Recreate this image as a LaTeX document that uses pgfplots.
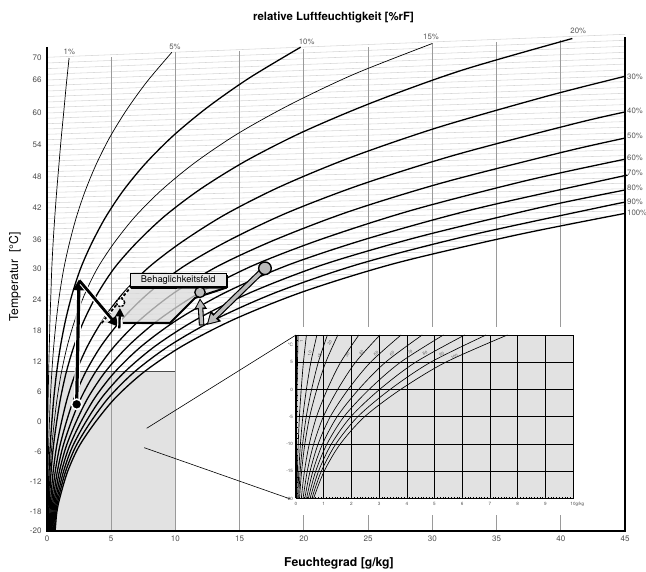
\documentclass[border=0pt]{standalone}
\usepackage{fontspec}
\setmainfont{TeX Gyre Heros}
\usepackage{pgfplots}
\pgfplotsset{compat=1.18}
\usetikzlibrary{arrows.meta,shadows}
\definecolor{tickgray}{HTML}{4D4D4D}
\definecolor{labgray}{HTML}{555555}
\definecolor{isogray}{HTML}{D6D6D6}
\definecolor{gridgray}{HTML}{9A9A9A}
\definecolor{rectgray}{HTML}{E2E2E2}
\definecolor{zonegray}{HTML}{DADADA}
\definecolor{arrowgray}{HTML}{BBBBBB}
\pgfplotsset{
  rhthick/.style={black, line width=1.3pt, smooth, line join=round},
  rhthin/.style={black, line width=0.7pt, smooth, line join=round},
  inrh/.style={black, line width=0.65pt, smooth},
}
\begin{document}
\begin{tikzpicture}
\useasboundingbox (-47pt,-41pt) rectangle (599pt,531pt);
\begin{axis}[
  name=main, at={(0pt,0pt)}, anchor=south west,
  scale only axis, width=578pt, height=493pt,
  xmin=0, xmax=45, ymin=0, ymax=493,
  enlargelimits=false, clip=false,
  axis line style={draw=none},
  major tick length=0pt,
  xtick={0,5,10,15,20,25,30,35,40,45},
  xticklabels={0,5,10,15,20,25,30,35,40,45},
  ytick={0,19,49.3,79.3,109,139,169.3,200,231,262,291.7,323,354,386,418,451,473.7},
  yticklabels={-20,-18,-12,-6,0,6,12,18,24,30,36,42,48,54,60,66,70},
  tick label style={font=\fontsize{8}{9}\selectfont, text=tickgray},
  yticklabel style={xshift=-2pt},
  xticklabel style={yshift=-1pt},
]
% grey region (detail)
\addplot[draw=none, fill=rectgray] coordinates {(0,0) (10,0) (10,159.5) (0,159.5)} -- cycle;
% isotherms
\addplot[isogray, line width=0.55pt, unbounded coords=jump] table {
0 164.25
8.160 164.9
nan nan
0 169.3
8.727 170.1
nan nan
0 174.4
9.334 175.3
nan nan
0 179.5
9.973 180.5
nan nan
0 184.65
10.646 185.8
nan nan
0 189.8
11.364 191.1
nan nan
0 194.9
12.122 196.4
nan nan
0 200
12.934 201.7
nan nan
0 205.2
13.786 207.1
nan nan
0 210.3
14.698 212.4
nan nan
0 215.5
15.651 217.9
nan nan
0 220.7
16.672 223.4
nan nan
0 225.8
17.742 228.8
nan nan
0 231
18.880 234.3
nan nan
0 236.2
20.082 239.9
nan nan
0 241.3
21.353 245.4
nan nan
0 246.5
22.696 251.0
nan nan
0 251.7
24.110 256.6
nan nan
0 256.8
25.610 262.2
nan nan
0 262
27.21 268.0
nan nan
0 267
28.887 273.5
nan nan
0 271.9
30.654 279.1
nan nan
0 276.9
32.531 284.7
nan nan
0 281.8
34.488 290.4
nan nan
0 286.75
36.59 296.1
nan nan
0 291.7
38.769 301.9
nan nan
0 296.9
41.112 308.0
nan nan
0 302.1
43.556 314.2
nan nan
0 307.35
45 320.2
nan nan
0 312.6
45 325.7
nan nan
0 317.8
45 331.3
nan nan
0 323
45 336.8
nan nan
0 328.2
45 342.3
nan nan
0 333.3
45 347.8
nan nan
0 338.5
45 353.3
nan nan
0 343.7
45 358.8
nan nan
0 348.8
45 364.2
nan nan
0 354
45 369.8
nan nan
0 359.3
45 375.4
nan nan
0 364.7
45 381.1
nan nan
0 370
45 386.8
nan nan
0 375.3
45 392.4
nan nan
0 380.7
45 398.1
nan nan
0 386
45 403.7
nan nan
0 391.3
45 409.4
nan nan
0 396.7
45 415.1
nan nan
0 402
45 420.7
nan nan
0 407.3
45 426.4
nan nan
0 412.7
45 432.1
nan nan
0 418
45 437.7
nan nan
0 423.5
45 443.5
nan nan
0 429
45 449.4
nan nan
0 434.5
45 455.2
nan nan
0 440
45 461.0
nan nan
0 445.5
45 466.9
nan nan
0 451
45 472.7
nan nan
0 456.7
45 478.7
nan nan
0 462.35
45 484.7
nan nan
0 468
45 490.7
nan nan
0 473.7
45 496.7
};
% vertical grid lines
\addplot[gridgray, line width=0.8pt, unbounded coords=jump] table {
5 0
5 474
nan nan
10 0
10 479
nan nan
15 0
15 480
nan nan
20 0
20 16
nan nan
20 204
20 482
nan nan
25 0
25 16
nan nan
25 204
25 484
nan nan
30 0
30 16
nan nan
30 204
30 488
nan nan
35 0
35 16
nan nan
35 204
35 489
nan nan
40 0
40 16
nan nan
40 204
40 491
};
\addplot[black!70, line width=0.7pt] coordinates {(0,159.5) (10,159.5)};
% relative humidity curves
\addplot[rhthin] coordinates {(0.006,0) (0.01,34) (0.02,59) (0.04,84) (0.06,109) (0.09,134) (0.13,159) (0.18,185) (0.23,210.5) (0.30,236) (0.37,262) (0.47,287) (0.6,313) (0.75,339) (0.92,365) (1.1,392) (1.3,418.5) (1.5,446) (1.72,473)};
\addplot[rhthin] coordinates {(0.0317,0) (0.0384,19) (0.0507,34.1) (0.0798,59.3) (0.1233,84.2) (0.1877,109) (0.2681,134.0) (0.3774,159.2) (0.5238,184.7) (0.7188,210.4) (0.9742,236.4) (1.306,262.3) (1.733,287.2) (2.275,313.3) (2.958,339.5) (3.811,366.1) (4.872,393.3) (6.178,420.7) (7.776,449.2) (9.720,478.7)};
\addplot[rhthick] coordinates {(0.0634,0) (0.0767,19) (0.1015,34.1) (0.1595,59.3) (0.2467,84.2) (0.3754,109) (0.5361,134.0) (0.7547,159.2) (1.048,184.7) (1.439,210.5) (1.952,236.6) (2.618,262.6) (3.475,287.6) (4.567,313.9) (5.943,340.5) (7.669,367.5) (9.821,395.2) (12.48,423.5) (15.748,453.0) (19.748,483.8)};
\addplot[rhthin] coordinates {(0.095,0) (0.115,19) (0.1522,34.1) (0.2393,59.3) (0.3699,84.2) (0.5633,109) (0.8046,134.0) (1.133,159.3) (1.574,184.8) (2.161,210.6) (2.932,236.7) (3.935,262.9) (5.227,288.1) (6.875,314.6) (8.958,341.4) (11.574,368.9) (14.849,397.3) (18.909,426.3) (23.925,456.9) (30.0,487.5)};
\addplot[rhthick] coordinates {(0.1267,0) (0.153,19) (0.2029,34.1) (0.319,59.3) (0.4933,84.2) (0.7513,109) (1.073,134.0) (1.511,159.3) (2.100,184.8) (2.885,210.7) (3.915,236.9) (5.258,263.2) (6.989,288.5) (9.201,315.3) (12.001,342.4) (15.529,370.4) (19.957,399.3) (25.471,429.2) (32.314,460.8) (40.9,492.5)};
\addplot[rhthick] coordinates {(0.190,0) (0.230,19) (0.3045,34.1) (0.4787,59.3) (0.7402,84.2) (1.128,109) (1.611,134.1) (2.270,159.4) (3.156,184.9) (4.338,210.9) (5.891,237.3) (7.921,263.7) (10.542,289.4) (13.904,316.7) (18.177,344.5) (23.587,373.3) (30.424,403.5) (39.005,435.1) (45,454.7)};
\addplot[rhthick] coordinates {(0.2536,0) (0.307,19) (0.406,34.1) (0.6386,59.3) (0.9874,84.2) (1.5045,109) (2.150,134.1) (3.030,159.4) (4.215,185.1) (5.797,211.1) (7.880,237.6) (10.606,264.3) (14.136,290.4) (18.678,318.1) (24.474,346.5) (31.852,376.3) (41.237,407.9) (45,419.0)};
\addplot[rhthick] coordinates {(0.317,0) (0.383,19) (0.5077,34.0) (0.7985,59.2) (1.235,84.2) (1.882,109) (2.690,134.1) (3.792,159.5) (5.278,185.2) (7.263,211.4) (9.881,238.0) (13.314,264.9) (17.771,291.3) (23.524,319.5) (30.897,348.6) (40.332,379.4) (45,392.9)};
\addplot[rhthick] coordinates {(0.3804,0) (0.460,19) (0.6092,34.0) (0.958,59.2) (1.483,84.2) (2.259,109) (3.231,134.1) (4.556,159.5) (6.344,185.3) (8.736,211.6) (11.895,238.4) (16.045,265.5) (21.446,292.2) (28.444,320.9) (37.449,350.8) (45,371.8)};
\addplot[rhthick] coordinates {(0.444,0) (0.537,19) (0.7107,34.0) (1.118,59.2) (1.730,84.2) (2.637,109) (3.772,134.1) (5.322,159.6) (7.414,185.4) (10.216,211.8) (13.921,238.7) (18.802,266.1) (25.165,293.2) (33.443,322.4) (44.13,353.0) (45,355.2)};
\addplot[rhthick] coordinates {(0.5075,0) (0.613,19) (0.8126,34.0) (1.278,59.2) (1.978,84.2) (3.016,109) (4.315,134.2) (6.090,159.6) (8.487,185.5) (11.702,212.0) (15.961,239.1) (21.583,266.7) (28.928,294.1) (38.513,323.8) (45,341.0)};
\addplot[rhthick] coordinates {(0.571,0) (0.690,19) (0.914,34.05) (1.438,59.2) (2.227,84.2) (3.395,109) (4.859,134.2) (6.859,159.7) (9.565,185.6) (13.196,212.2) (18.015,239.5) (24.383,267.3) (32.735,295.1) (43.67,325.4) (45,328.6)};
\addplot[rhthick] coordinates {(0.634,0) (0.767,19) (1.016,34.0) (1.598,59.2) (2.475,84.2) (3.775,109) (5.403,134.2) (7.631,159.8) (10.646,185.8) (14.698,212.4) (20.082,239.9) (27.21,268.0) (36.59,296.1) (45,317.6)};
% frame
\draw[black, line width=1.6pt] (axis cs:0,484) -- (axis cs:0,0) -- (axis cs:45,0) -- (axis cs:45,494);
% comfort zone
\addplot[draw=none, fill=zonegray, opacity=0.75] coordinates {(4.26,208) (9.58,208) (11.52,233) (14.0,243.5) (6.46,243)} -- cycle;
\addplot[black, line width=2pt] coordinates {(5.9,208) (9.58,208) (11.52,233) (14.0,243.5)};
\addplot[black, line width=2pt] coordinates {(6.46,243) (14.0,243.5)};
\addplot[white, line width=2.8pt] coordinates {(4.26,208) (6.46,243)};
\addplot[black, line width=1.9pt, dash pattern=on 3pt off 2pt] coordinates {(4.26,208) (6.46,243)};
\node[draw=black, fill=gray!18, line width=0.7pt, minimum width=96pt, minimum height=13.5pt, inner sep=0pt, font=\fontsize{9.3}{10}\selectfont, drop shadow={shadow xshift=1.6pt, shadow yshift=-1.6pt, fill=black, opacity=1}] at (axis cs:10.22,251) {Behaglichkeitsfeld};
% connecting lines to detail
\addplot[black, line width=0.6pt] coordinates {(7.76,102.7) (19.386,196)};
\addplot[black, line width=0.6pt] coordinates {(7.57,83.3) (18.95,32)};
% winter process (black)
\addplot[white, line width=5.5pt] coordinates {(2.31,126.7) (2.47,240)};
\addplot[black, line width=3.2pt, -{Triangle[length=11pt,width=11pt]}] coordinates {(2.31,126.7) (2.49,251.7)};
\addplot[white, line width=5pt] coordinates {(2.7,248) (5.2,208.5)};
\addplot[black, line width=2.8pt, -{Triangle[length=10pt,width=10pt]}] coordinates {(2.52,250.5) (5.55,204.3)};
\addplot[only marks, mark=*, mark size=4.2pt, mark options={fill=white, draw=black, line width=1.4pt, dash pattern=on 2.2pt off 1.2pt}] coordinates {(5.72,228.5)};
\addplot[white, line width=4.5pt] coordinates {(5.63,202.7) (5.67,216)};
\addplot[black, line width=2.3pt, -{Triangle[length=8.5pt,width=8.5pt]}] coordinates {(5.63,202.7) (5.68,223)};
\addplot[only marks, mark=*, mark size=5.2pt, mark options={fill=black, draw=white, line width=1.6pt}] coordinates {(2.31,126.7)};
% summer process (grey)
\addplot[black, line width=6pt, -{Triangle[length=13pt,width=14pt]}] coordinates {(16.97,262.7) (12.43,206)};
\addplot[arrowgray, line width=3.6pt, shorten >=2pt, -{Triangle[length=9pt,width=9.5pt]}] coordinates {(16.97,262.7) (12.43,206)};
\addplot[black, line width=5.5pt, -{Triangle[length=11pt,width=12pt]}] coordinates {(12.04,205.5) (11.91,232.7)};
\addplot[arrowgray, line width=3.3pt, shorten >=1.9pt, shorten <=1.1pt, -{Triangle[length=7.5pt,width=8pt]}] coordinates {(12.04,205.5) (11.91,232.7)};
\addplot[only marks, mark=*, mark size=6.3pt, mark options={fill=arrowgray, draw=black, line width=1.4pt}] coordinates {(16.97,262.7)};
\addplot[only marks, mark=*, mark size=5.2pt, mark options={fill=arrowgray, draw=black, line width=1.3pt}] coordinates {(11.91,238.7)};
\end{axis}

% detail inset
\begin{axis}[
  at={(249pt,32.5pt)}, anchor=south west,
  scale only axis, width=277pt, height=163.5pt,
  xmin=0, xmax=10, ymin=-20, ymax=10, enlargelimits=false, clip=false,
  axis background/.style={fill=rectgray},
  xtick={0,1,2,3,4,5,6,7,8,9,10},
  xticklabels={0,1,2,3,4,5,6,7,8,9,10\rlap{g/kg}},
  ytick={-20,-15,-10,-5,0,5,10},
  yticklabels={-20,-15,-10,-5,0,5,{}},
  grid=major, major grid style={black, line width=0.6pt},
  axis line style={black, line width=0.6pt},
  minor x tick num=9, minor y tick num=4,
  tick align=inside, tick pos=left,
  major tick length=0pt, minor tick length=1.6pt,
  minor tick style={black, line width=0.3pt},
  tick label style={font=\fontsize{4.6}{5}\selectfont, text=tickgray},
  xticklabel style={yshift=-0.5pt},
  yticklabel style={xshift=0.5pt},
]
\addplot[inrh] coordinates {(0.006,-20) (0.010,-15) (0.016,-10) (0.025,-5) (0.038,0) (0.054,5) (0.075,10)};
\addplot[inrh] coordinates {(0.032,-20) (0.051,-15) (0.080,-10) (0.123,-5) (0.188,0) (0.268,5) (0.377,10)};
\addplot[inrh] coordinates {(0.063,-20) (0.102,-15) (0.160,-10) (0.247,-5) (0.375,0) (0.536,5) (0.755,10)};
\addplot[inrh] coordinates {(0.095,-20) (0.152,-15) (0.239,-10) (0.370,-5) (0.563,0) (0.805,5) (1.133,10)};
\addplot[inrh] coordinates {(0.127,-20) (0.203,-15) (0.319,-10) (0.493,-5) (0.751,0) (1.073,5) (1.511,10)};
\addplot[inrh] coordinates {(0.190,-20) (0.305,-15) (0.479,-10) (0.740,-5) (1.128,0) (1.611,5) (2.270,10)};
\addplot[inrh] coordinates {(0.254,-20) (0.406,-15) (0.639,-10) (0.987,-5) (1.505,0) (2.150,5) (3.030,10)};
\addplot[inrh] coordinates {(0.317,-20) (0.508,-15) (0.799,-10) (1.235,-5) (1.882,0) (2.690,5) (3.792,10)};
\addplot[inrh] coordinates {(0.380,-20) (0.609,-15) (0.958,-10) (1.483,-5) (2.259,0) (3.231,5) (4.556,10)};
\addplot[inrh] coordinates {(0.444,-20) (0.711,-15) (1.118,-10) (1.730,-5) (2.637,0) (3.772,5) (5.322,10)};
\addplot[inrh] coordinates {(0.5075,-20) (0.8126,-15) (1.278,-10) (1.978,-5) (3.016,0) (4.315,5) (6.090,10)};
\addplot[inrh] coordinates {(0.571,-20) (0.914,-15) (1.438,-10) (2.227,-5) (3.395,0) (4.859,5) (6.859,10)};
\addplot[inrh] coordinates {(0.634,-20) (1.016,-15) (1.598,-10) (2.475,-5) (3.775,0) (5.403,5) (7.631,10)};
\draw[black, line width=1.6pt] (axis cs:0,-20) -- (axis cs:0,10);
\node[font=\fontsize{4.6}{5}\selectfont, text=tickgray] at (axis cs:-0.2,8.2) {°C};
\begin{scope}[every node/.style={font=\fontsize{4.2}{4.5}\selectfont, text=labgray, inner sep=0pt}]
\node[rotate=85] at (axis cs:0.2,8.8) {1};
\node[rotate=77] at (axis cs:0.5,6.6) {10};
\node[rotate=71] at (axis cs:0.86,6.2) {15};
\node[rotate=62] at (axis cs:1.22,8.5) {20};
\node[rotate=56] at (axis cs:1.86,6.3) {30};
\node[rotate=48] at (axis cs:2.36,6.7) {40};
\node[rotate=42] at (axis cs:2.89,6.6) {50};
\node[rotate=37] at (axis cs:3.47,6.6) {60};
\node[rotate=32] at (axis cs:4.12,6.8) {70};
\node[rotate=29] at (axis cs:4.66,6.6) {80};
\node[rotate=26] at (axis cs:5.26,6.4) {90};
\node[rotate=24] at (axis cs:5.72,6.0) {100};
\end{scope}
\end{axis}

% titles and labels
\node[font=\bfseries\fontsize{11.4}{13}\selectfont] at (286.5pt,513pt) {relative Luftfeuchtigkeit [\%rF]};
\node[font=\bfseries\fontsize{12.2}{14}\selectfont] at (292pt,-32pt) {Feuchtegrad [g/kg]};
\node[font=\fontsize{12.2}{14}\selectfont, rotate=90] at (-32pt,254pt) {Temperatur\ \ [°C]};
% RH labels
\begin{scope}[every node/.style={font=\fontsize{7.8}{9}\selectfont, text=labgray, inner sep=0pt}]
\node at (22.3pt,479.3pt) {1\%};
\node at (128pt,483.7pt) {5\%};
\node at (259.7pt,488.7pt) {10\%};
\node at (384pt,493.7pt) {15\%};
\node at (531.3pt,500pt) {20\%};
\node[anchor=west] at (580pt,454.3pt) {30\%};
\node[anchor=west] at (580pt,420.3pt) {40\%};
\node[anchor=west] at (580pt,395pt) {50\%};
\node[anchor=west] at (580pt,372.7pt) {60\%};
\node[anchor=west] at (580pt,357.7pt) {70\%};
\node[anchor=west] at (580pt,342.7pt) {80\%};
\node[anchor=west] at (580pt,329.3pt) {90\%};
\node[anchor=west] at (580pt,318.3pt) {100\%};
\end{scope}
\end{tikzpicture}
\end{document}
